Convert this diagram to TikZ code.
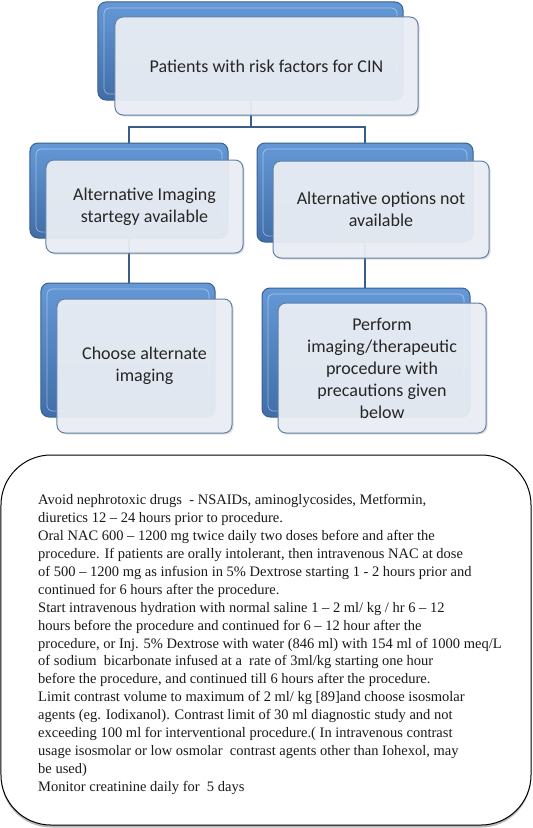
\documentclass[tikz,border=0pt]{standalone}
\usepackage{fontspec}
\setmainfont{Liberation Serif}
\newfontfamily\boxfont{Carlito}
\usetikzlibrary{shadows}
\definecolor{bluetop}{RGB}{100,152,214}
\definecolor{bluebot}{RGB}{64,110,168}
\definecolor{blueedge}{RGB}{58,96,145}
\definecolor{linkblue}{RGB}{56,93,138}
\definecolor{paleface}{RGB}{236,240,246}
\definecolor{paleedge}{RGB}{96,128,166}
\tikzset{
  backbox/.style={rectangle, rounded corners=8bp, draw=blueedge, line width=1bp,
    top color=bluetop, bottom color=bluebot, inner sep=0pt,
    path picture={\draw[white, opacity=0.45, line width=0.7bp, rounded corners=5bp]
      ([shift={(6bp,-6bp)}]path picture bounding box.north west) rectangle
      ([shift={(-6bp,6bp)}]path picture bounding box.south east);}},
  frontbox/.style={rectangle, rounded corners=8bp, draw=paleedge, line width=1bp,
    fill=paleface, fill opacity=0.93, text opacity=1, inner sep=0pt, align=center,
    font=\boxfont\fontsize{18bp}{22bp}\selectfont, text=black!85,
    drop shadow={shadow xshift=1.5bp, shadow yshift=-1.5bp, opacity=0.25}},
  link/.style={draw=linkblue, line width=2bp},
  noteframe/.style={rectangle, draw=black, line width=1bp, rounded corners=50bp,
    fill=white, inner sep=0pt,
    drop shadow={shadow xshift=0bp, shadow yshift=-2.5bp, opacity=0.55}},
  notetext/.style={inner sep=0pt, align=left, text=black!90,
    font=\fontsize{14.5bp}{17.95bp}\selectfont}
}
\begin{document}
\begin{tikzpicture}[x=1bp,y=-1bp]
\useasboundingbox (0,0) rectangle (533,828);
% back (blue) boxes
\node[backbox, minimum width=305bp, minimum height=98bp] (topB) at (250.5,51) {};
\node[backbox, minimum width=198bp, minimum height=95bp] (mlB) at (129,190.5) {};
\node[backbox, minimum width=216bp, minimum height=99bp] (mrB) at (365,192.5) {};
\node[backbox, minimum width=174bp, minimum height=134bp] (blB) at (128,350) {};
\node[backbox, minimum width=208bp, minimum height=129bp] (brB) at (366,352.5) {};
% connectors
\coordinate (split) at (250,127);
\draw[link] (topB.south) -- (topB.south |- split);
\draw[link] (mlB.north) |- (split) -| (mrB.north);
\draw[link] (mlB.south) -- (mlB.south |- blB.north);
\draw[link] (mrB.south) -- (mrB.south |- brB.north);
% front boxes
\node[frontbox, minimum width=303bp, minimum height=98bp] (topW) at (266.5,66) {Patients with risk factors for CIN};
\node[frontbox, minimum width=197bp, minimum height=93bp] (mlW) at (144.5,206.5) {Alternative Imaging\\startegy available};
\node[frontbox, minimum width=216bp, minimum height=97bp] (mrW) at (381,209.5) {Alternative options not\\available};
\node[frontbox, minimum width=175bp, minimum height=134bp] (blW) at (144.5,366) {Choose alternate\\imaging};
\node[frontbox, minimum width=208bp, minimum height=130bp] (brW) at (382,368) {Perform\\imaging/therapeutic\\procedure with\\precautions given\\below};
% notes
\node[noteframe, minimum width=530bp, minimum height=370bp] (notesbox) at (266,640) {};
\node[notetext, anchor=north west] (notes) at (38,494) {Avoid nephrotoxic drugs~ - NSAIDs, aminoglycosides, Metformin,\\
diuretics 12 -- 24 hours prior to procedure.\\
Oral NAC 600 -- 1200 mg twice daily two doses before and after the\\
procedure. If patients are orally intolerant, then intravenous NAC at dose\\
of 500 -- 1200 mg as infusion in 5\% Dextrose starting 1 - 2 hours prior and\\
continued for 6 hours after the procedure.\\
Start intravenous hydration with normal saline 1 -- 2 ml/ kg / hr 6 -- 12\\
hours before the procedure and continued for 6 -- 12 hour after the\\
procedure, or Inj. 5\% Dextrose with water (846 ml) with 154 ml of 1000 meq/L\\
of sodium~ bicarbonate infused at a~ rate of 3ml/kg starting one hour\\
before the procedure, and continued till 6 hours after the procedure.\\
Limit contrast volume to maximum of 2 ml/ kg [89]and choose isosmolar\\
agents (eg. Iodixanol). Contrast limit of 30 ml diagnostic study and not\\
exceeding 100 ml for interventional procedure.( In intravenous contrast\\
usage isosmolar or low osmolar~ contrast agents other than Iohexol, may\\
be used)\\
Monitor creatinine daily for~ 5 days};
\end{tikzpicture}
\end{document}
